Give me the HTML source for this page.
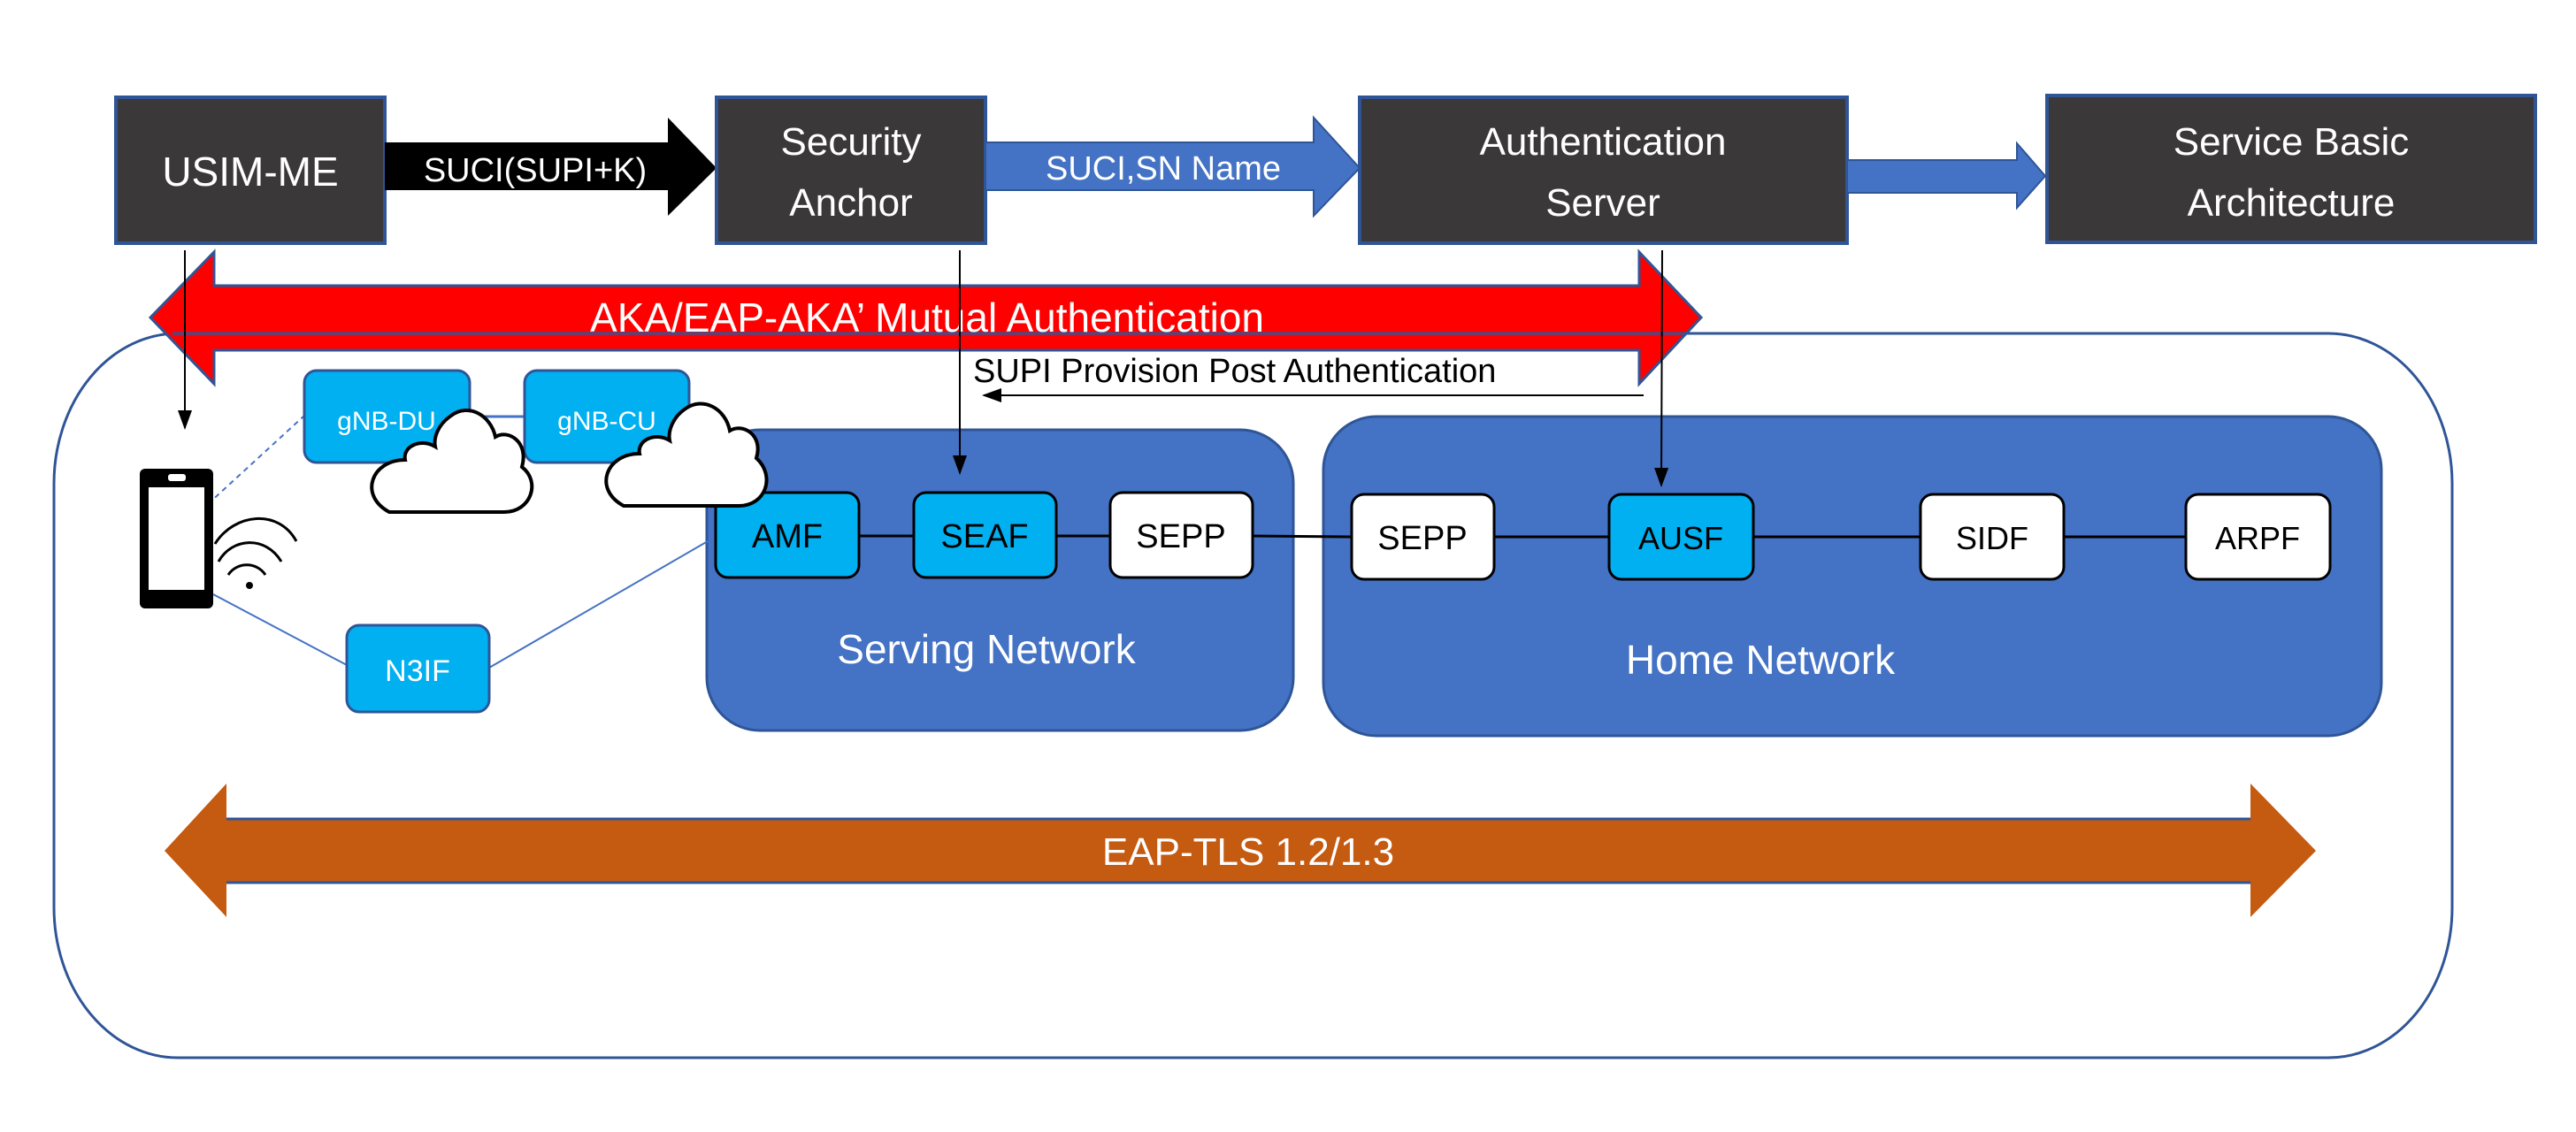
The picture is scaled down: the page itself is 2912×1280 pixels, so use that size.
<!DOCTYPE html>
<html><head><meta charset="utf-8"><style>
html,body{margin:0;padding:0;background:#fff}
svg{display:block}
text{font-family:"Liberation Sans",sans-serif}
</style></head><body>
<svg width="2912" height="1280" viewBox="0 0 2912 1280" xmlns="http://www.w3.org/2000/svg">
<defs>
<marker id="ah2" markerWidth="22" markerHeight="16" refX="20" refY="8" orient="auto" markerUnits="userSpaceOnUse"><path d="M0,0 L22,8 L0,16 z" fill="#000"/></marker>
</defs>

<!-- outer rounded container -->
<rect x="61" y="377" width="2711" height="819" rx="140" ry="170" fill="#fff" stroke="#2F5597" stroke-width="3"/>

<!-- top boxes -->
<rect x="131" y="110" width="304" height="165" fill="#3A3838" stroke="#2F5597" stroke-width="4"/>
<text x="283" y="210" font-size="46" fill="#fff" text-anchor="middle">USIM-ME</text>

<polygon points="435,161 755,161 755,133 810,190 755,244 755,215 435,215" fill="#000"/>
<text x="605" y="205" font-size="38" fill="#fff" text-anchor="middle">SUCI(SUPI+K)</text>

<rect x="810" y="110" width="304" height="165" fill="#3A3838" stroke="#2F5597" stroke-width="4"/>
<text x="962" y="175" font-size="44" fill="#fff" text-anchor="middle">Security</text>
<text x="962" y="244" font-size="44" fill="#fff" text-anchor="middle">Anchor</text>

<polygon points="1114,161 1485,161 1485,133 1537,190 1485,244 1485,215 1114,215" fill="#4472C4" stroke="#2F5597" stroke-width="2"/>
<text x="1315" y="203" font-size="38" fill="#fff" text-anchor="middle">SUCI,SN Name</text>

<rect x="1537" y="110" width="551" height="165" fill="#3A3838" stroke="#2F5597" stroke-width="4"/>
<text x="1812" y="175" font-size="44" fill="#fff" text-anchor="middle">Authentication</text>
<text x="1812" y="244" font-size="44" fill="#fff" text-anchor="middle">Server</text>

<polygon points="2088,181 2280,181 2280,162 2312,199 2280,235 2280,218 2088,218" fill="#4472C4" stroke="#2F5597" stroke-width="2"/>

<rect x="2314" y="108" width="552" height="166" fill="#3A3838" stroke="#2F5597" stroke-width="4"/>
<text x="2590" y="175" font-size="44" fill="#fff" text-anchor="middle">Service Basic</text>
<text x="2590" y="244" font-size="44" fill="#fff" text-anchor="middle">Architecture</text>

<!-- red double arrow -->
<polygon points="170,359 242,285 242,323 1853,323 1853,285 1923,359 1853,434 1853,396 242,396 242,434" fill="#FF0000" stroke="#2F5597" stroke-width="3"/>
<path d="M195,377 L1915,377" stroke="#2F5597" stroke-width="3"/>
<text x="1048" y="375" font-size="46" fill="#fff" text-anchor="middle">AKA/EAP-AKA’  Mutual Authentication</text>

<!-- SUPI provision -->
<text x="1100" y="432" font-size="38" fill="#000">SUPI Provision Post Authentication</text>
<line x1="1858" y1="447" x2="1112" y2="447" stroke="#000" stroke-width="2" marker-end="url(#ah2)"/>

<!-- networks -->
<rect x="799" y="486" width="663" height="340" rx="60" fill="#4472C4" stroke="#2F5597" stroke-width="3"/>
<rect x="1496" y="471" width="1196" height="361" rx="60" fill="#4472C4" stroke="#2F5597" stroke-width="3"/>
<text x="1115" y="750" font-size="46" fill="#fff" text-anchor="middle">Serving Network</text>
<text x="1990" y="762" font-size="46" fill="#fff" text-anchor="middle">Home Network</text>

<!-- connecting lines -->
<line x1="971" y1="606" x2="1033" y2="606" stroke="#000" stroke-width="3"/>
<line x1="1194" y1="606" x2="1255" y2="606" stroke="#000" stroke-width="3"/>
<line x1="1416" y1="606" x2="1528" y2="607" stroke="#000" stroke-width="3"/>
<line x1="1689" y1="607" x2="1819" y2="607" stroke="#000" stroke-width="3"/>
<line x1="1982" y1="607" x2="2171" y2="607" stroke="#000" stroke-width="3"/>
<line x1="2333" y1="607" x2="2471" y2="607" stroke="#000" stroke-width="3"/>

<!-- NFs -->
<rect x="809" y="557" width="162" height="96" rx="14" fill="#00B0F0" stroke="#000" stroke-width="3"/>
<text x="890" y="619" font-size="38" fill="#000" text-anchor="middle">AMF</text>
<rect x="1033" y="557" width="161" height="96" rx="14" fill="#00B0F0" stroke="#000" stroke-width="3"/>
<text x="1113" y="619" font-size="38" fill="#000" text-anchor="middle">SEAF</text>
<rect x="1255" y="557" width="161" height="96" rx="14" fill="#fff" stroke="#000" stroke-width="3"/>
<text x="1335" y="619" font-size="38" fill="#000" text-anchor="middle">SEPP</text>
<rect x="1528" y="559" width="161" height="96" rx="14" fill="#fff" stroke="#000" stroke-width="3"/>
<text x="1608" y="621" font-size="38" fill="#000" text-anchor="middle">SEPP</text>
<rect x="1819" y="559" width="163" height="96" rx="14" fill="#00B0F0" stroke="#000" stroke-width="3"/>
<text x="1900" y="621" font-size="36" fill="#000" text-anchor="middle">AUSF</text>
<rect x="2171" y="559" width="162" height="96" rx="14" fill="#fff" stroke="#000" stroke-width="3"/>
<text x="2252" y="621" font-size="36" fill="#000" text-anchor="middle">SIDF</text>
<rect x="2471" y="559" width="163" height="96" rx="14" fill="#fff" stroke="#000" stroke-width="3"/>
<text x="2552" y="621" font-size="36" fill="#000" text-anchor="middle">ARPF</text>

<!-- vertical arrows -->
<line x1="209" y1="283" x2="209" y2="484" stroke="#000" stroke-width="2" marker-end="url(#ah2)"/>
<line x1="1085" y1="283" x2="1085" y2="535" stroke="#000" stroke-width="2" marker-end="url(#ah2)"/>
<line x1="1879" y1="283" x2="1878" y2="549" stroke="#000" stroke-width="2" marker-end="url(#ah2)"/>

<!-- access lines -->
<line x1="235" y1="570" x2="344" y2="470" stroke="#4472C4" stroke-width="2" stroke-dasharray="6,5"/>
<line x1="531" y1="471" x2="593" y2="471" stroke="#4472C4" stroke-width="3"/>
<line x1="779" y1="480" x2="805" y2="545" stroke="#4472C4" stroke-width="2"/>
<line x1="241" y1="672" x2="392" y2="752" stroke="#4472C4" stroke-width="2"/>
<line x1="553" y1="755" x2="800" y2="612" stroke="#4472C4" stroke-width="2"/>

<!-- gNB boxes -->
<rect x="344" y="419" width="187" height="104" rx="14" fill="#00B0F0" stroke="#2F5597" stroke-width="3"/>
<text x="437" y="486" font-size="30" fill="#fff" text-anchor="middle">gNB-DU</text>
<rect x="593" y="419" width="186" height="104" rx="14" fill="#00B0F0" stroke="#2F5597" stroke-width="3"/>
<text x="686" y="486" font-size="30" fill="#fff" text-anchor="middle">gNB-CU</text>

<!-- clouds -->
<g fill="#fff" stroke="#000" stroke-width="4">
<path d="M440,579 L570,579 C600,579 612,545 590,528 C598,500 575,485 560,494 C555,470 530,455 510,470 C495,480 490,495 492,505 C475,495 455,505 458,520 C420,520 405,560 440,579 Z"/>
<path d="M705,572 L835,572 C866,572 877,538 855,518 C863,492 840,478 825,487 C820,462 795,448 775,462 C760,472 755,488 757,498 C740,488 720,498 723,513 C685,513 670,553 705,572 Z"/>
</g>

<!-- N3IF -->
<rect x="392" y="707" width="161" height="98" rx="14" fill="#00B0F0" stroke="#2F5597" stroke-width="3"/>
<text x="472" y="770" font-size="34" fill="#fff" text-anchor="middle">N3IF</text>

<!-- phone -->
<rect x="158" y="530" width="83" height="158" rx="6" fill="#000"/>
<rect x="168" y="551" width="63" height="116" fill="#fff"/>
<rect x="190" y="536" width="20" height="8" rx="3" fill="#fff"/>
<g fill="none" stroke="#000" stroke-width="3">
<path d="M243,615 C265,580 315,575 335,612"/>
<path d="M247,635 C262,608 300,605 318,635"/>
<path d="M258,650 C268,635 290,635 300,650"/>
</g>
<circle cx="282" cy="662" r="4" fill="#000"/>

<!-- orange double arrow -->
<polygon points="186,962 256,886 256,926 2544,926 2544,886 2618,962 2544,1037 2544,998 256,998 256,1037" fill="#C55A11"/>
<line x1="256" y1="926" x2="2544" y2="926" stroke="#2F5597" stroke-width="3"/>
<line x1="256" y1="998" x2="2544" y2="998" stroke="#2F5597" stroke-width="3"/>
<text x="1411" y="978" font-size="44" fill="#fff" text-anchor="middle">EAP-TLS 1.2/1.3</text>
</svg>
</body></html>
